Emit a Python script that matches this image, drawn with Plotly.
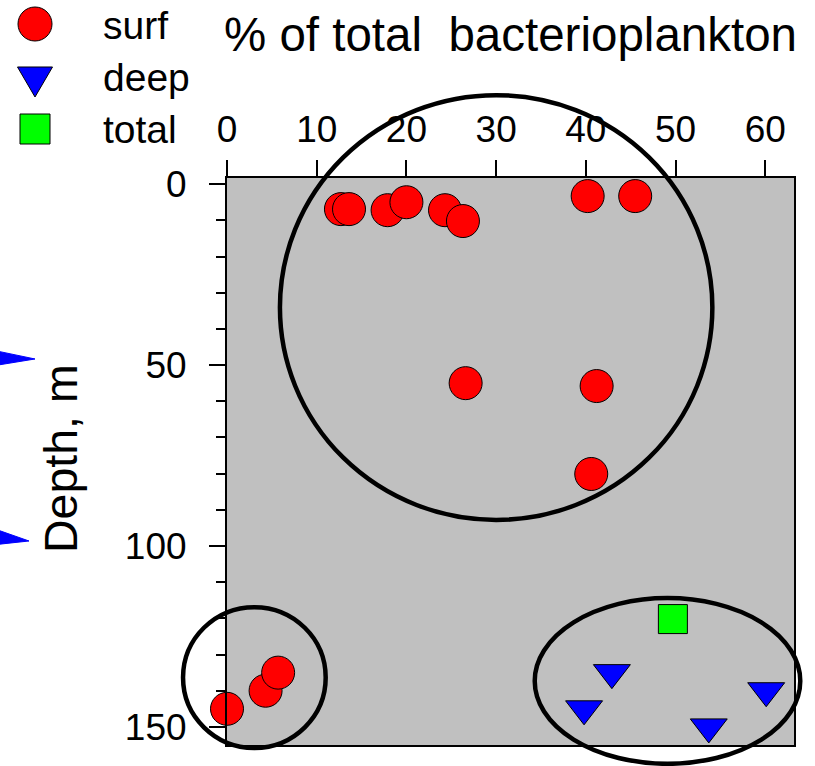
import plotly.graph_objects as go

# ---- data ----
surf_pct = [12.7, 13.6, 17.9, 20.0, 24.3, 26.3, 40.2, 45.5, 26.6, 41.2, 40.6, 0.0, 4.3, 5.7]
surf_depth = [6.9, 6.9, 7.2, 5.0, 7.2, 10.2, 3.3, 3.3, 55.0, 55.8, 80.1, 145.0, 140.0, 135.0]
deep_pct = [42.9, 39.8, 53.7, 60.1]
deep_depth = [135.0, 145.0, 150.0, 140.0]
total_pct = [49.7]
total_depth = [120.2]
x_ticks = [0, 10, 20, 30, 40, 50, 60]
y_ticks = [0, 50, 100, 150]
legend_names = ["surf", "deep", "total"]

# ---- layout constants ----
W, H = 815, 766
ML, MR, MT, MB = 227, 21, 178, 21
PW, PH = W - ML - MR, H - MT - MB
XR = [0, 63.2]
YR = [155, -1.7]
FONT = "Liberation Sans, Arial, sans-serif"

def px_x(px):
    return (px - ML) / PW

def px_y(py):
    return (H - MB - py) / PH

def dx(v):
    return (v - XR[0]) / (XR[1] - XR[0])

def dy(v):
    return (YR[0] - v) / (YR[0] - YR[1])

RED_C, BLUE_C, GREEN_C = "#ff0000", "#0000ff", "#00ff00"
RED = dict(color=RED_C, size=33, symbol="circle", line=dict(color="black", width=1))
BLUE = dict(color=BLUE_C, size=32, symbol="triangle-down", line=dict(color="black", width=1))
GREEN = dict(color=GREEN_C, size=29, symbol="square", line=dict(color="black", width=1))

fig = go.Figure()
fig.add_trace(go.Scatter(x=surf_pct, y=surf_depth, mode="markers", marker=RED,
                         name=legend_names[0], cliponaxis=False, showlegend=False))
fig.add_trace(go.Scatter(x=deep_pct, y=deep_depth, mode="markers", marker=BLUE,
                         name=legend_names[1], cliponaxis=False, showlegend=False))
fig.add_trace(go.Scatter(x=total_pct, y=total_depth, mode="markers", marker=GREEN,
                         name=legend_names[2], cliponaxis=False, showlegend=False))

shapes = []

def pth(pts):
    return "M " + " L ".join(f"{px_x(a):.5f},{px_y(b):.5f}" for a, b in pts) + " Z"

# manual legend glyphs (pixel positions)
edge = dict(color="black", width=1)
shapes.append(dict(type="circle", xref="paper", yref="paper",
                   x0=px_x(18), x1=px_x(52), y0=px_y(41), y1=px_y(7),
                   fillcolor=RED_C, line=edge, layer="above"))
shapes.append(dict(type="path", xref="paper", yref="paper",
                   path=pth([(17.5, 67), (52.5, 67), (35, 97)]),
                   fillcolor=BLUE_C, line=edge, layer="above"))
shapes.append(dict(type="rect", xref="paper", yref="paper",
                   x0=px_x(20), x1=px_x(50), y0=px_y(144), y1=px_y(114),
                   fillcolor=GREEN_C, line=edge, layer="above"))

annotations = []
leg_text_y = [25, 77, 129]
for i, name in enumerate(legend_names):
    annotations.append(dict(x=px_x(101), y=px_y(leg_text_y[i]), xref="paper", yref="paper",
                            text=name, showarrow=False, xanchor="left", yanchor="middle",
                            font=dict(family=FONT, size=39, color="black")))

annotations.append(dict(x=px_x(510), y=px_y(35), xref="paper", yref="paper",
                        text="% of total  bacterioplankton", showarrow=False,
                        xanchor="center", yanchor="middle",
                        font=dict(family=FONT, size=47.5, color="black")))
annotations.append(dict(x=px_x(61), y=px_y(459), xref="paper", yref="paper",
                        text="Depth, m", showarrow=False, textangle=-90,
                        xanchor="center", yanchor="middle",
                        font=dict(family=FONT, size=46.5, color="black")))

# ellipses (data units)
ellipses = [(5.9, 54.1, -24.6, 92.8), (-4.9, 11.0, 116.9, 155.8), (34.3, 63.9, 114.4, 160.2)]
for x0, x1, y0, y1 in ellipses:
    shapes.append(dict(type="circle", xref="paper", yref="paper",
                       x0=dx(x0), x1=dx(x1), y0=dy(y1), y1=dy(y0),
                       line=dict(color="black", width=4.5), layer="above"))

# left axis line extension above the frame
shapes.append(dict(type="line", xref="paper", yref="paper",
                   x0=px_x(227), x1=px_x(227), y0=px_y(178), y1=px_y(162),
                   line=dict(color="black", width=2)))

# cut-off blue arrowheads at left edge
shapes.append(dict(type="path", xref="paper", yref="paper",
                   path=pth([(-8, 350), (35, 359), (-8, 366)]),
                   fillcolor=BLUE_C, line=dict(color=BLUE_C, width=1), layer="above"))
shapes.append(dict(type="path", xref="paper", yref="paper",
                   path=pth([(-8, 528), (29, 541), (-8, 545)]),
                   fillcolor=BLUE_C, line=dict(color=BLUE_C, width=1), layer="above"))

fig.update_layout(
    width=W, height=H,
    margin=dict(l=ML, r=MR, t=MT, b=MB, pad=0),
    paper_bgcolor="white",
    plot_bgcolor="#c0c0c0",
    showlegend=False,
    font=dict(family=FONT, color="black"),
    xaxis=dict(range=XR, side="top", tickvals=x_ticks, ticks="outside", ticklen=16,
               tickwidth=2, tickcolor="black", showline=True, linewidth=2,
               linecolor="black", mirror=True, showgrid=False, zeroline=False,
               tickfont=dict(family=FONT, size=37, color="black"),
               ticklabelstandoff=3),
    yaxis=dict(range=YR, tickvals=y_ticks, ticks="outside", ticklen=16, tickwidth=2,
               tickcolor="black", showline=True, linewidth=2, linecolor="black",
               mirror=True, showgrid=False, zeroline=False,
               minor=dict(dtick=10, tick0=0, ticks="outside", ticklen=9, tickwidth=2,
                          tickcolor="black", showgrid=False),
               tickfont=dict(family=FONT, size=37, color="black"),
               ticklabelstandoff=15),
    annotations=annotations,
    shapes=shapes,
)

fig.write_html("out.html", config={"displayModeBar": False},
               post_script="document.body.style.margin='0';document.body.style.overflow='hidden';")
